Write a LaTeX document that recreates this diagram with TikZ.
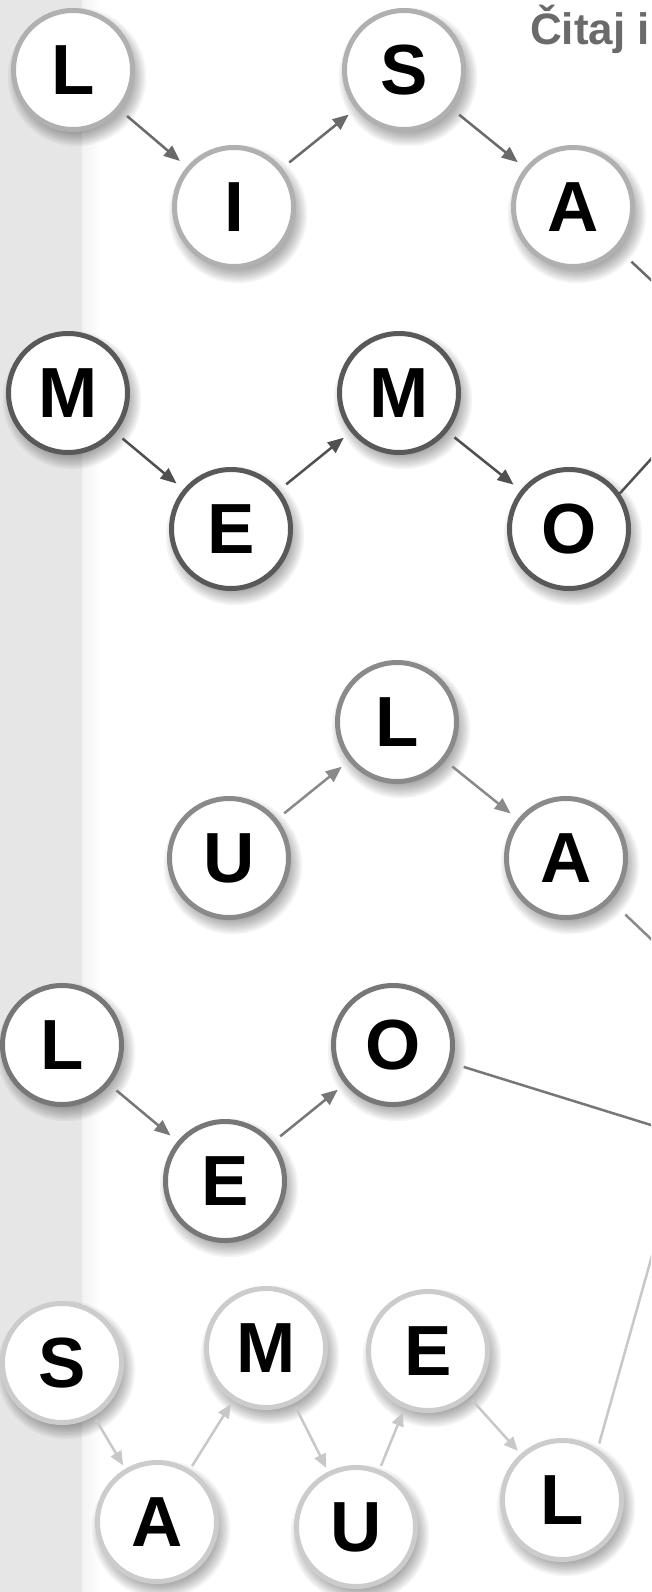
\documentclass[tikz,border=0pt]{standalone}
\usepackage{fontspec}
\setmainfont{Liberation Sans}
\usetikzlibrary{arrows.meta}
\definecolor{stripgray}{HTML}{E6E6E6}
\definecolor{titlegray}{HTML}{6A6A6A}
\definecolor{bordA}{HTML}{B0B0B0}
\definecolor{arrA}{HTML}{6A6A6A}
\definecolor{bordB}{HTML}{595959}
\definecolor{arrB}{HTML}{505050}
\definecolor{bordC}{HTML}{8A8A8A}
\definecolor{arrC}{HTML}{8A8A8A}
\definecolor{bordD}{HTML}{777777}
\definecolor{arrD}{HTML}{777777}
\definecolor{bordE}{HTML}{CCCCCC}
\definecolor{arrE}{HTML}{C8C8C8}
\newcommand\mynodeshadow[1]{%
  \foreach \k in {0,...,9} {\fill[black,opacity=0.045] ([xshift=4pt,yshift=-7pt]#1.center) circle ({53pt+\k*1.8pt});}}
\tikzset{
  ltr/.style={circle, fill=white, line width=5pt, inner sep=0pt, minimum size=119pt,
    font=\fontsize{71}{71}\selectfont\bfseries},
  rowone/.style={ltr, draw=bordA},
  rowtwo/.style={ltr, draw=bordB},
  rowthree/.style={ltr, draw=bordC},
  rowfour/.style={ltr, draw=bordD},
  rowfive/.style={ltr, draw=bordE},
  arr/.style={-{Triangle[length=16pt,width=13pt]}, line width=2.5pt, shorten <=9pt, shorten >=9pt},
  arrshort/.style={-{Triangle[length=14pt,width=12pt]}, line width=2.5pt, shorten <=4pt, shorten >=4pt},
  outline/.style={line width=2.5pt},
}
\begin{document}
\begin{tikzpicture}[x=1pt,y=-1pt]
\useasboundingbox (0,0) rectangle (651,1592);
\clip (0,0) rectangle (651,1592);
\fill[white] (0,0) rectangle (651,1592);
\fill[stripgray] (0,0) rectangle (82,1592);
\shade[left color=black!5, right color=white] (82,0) rectangle (100,1592);

% title
\node[anchor=base west, inner sep=0pt, text=titlegray, font=\fontsize{44}{44}\selectfont\bfseries] (title) at (530,45) {Čitaj i};

% coordinates
\coordinate (L1) at (73,70);   \coordinate (I1) at (234,207);
\coordinate (S1) at (404,70);  \coordinate (A1) at (573,207);
\coordinate (M2) at (68,393);  \coordinate (E2) at (231,529);
\coordinate (N2) at (399,393); \coordinate (O2) at (569,529);
\coordinate (L3) at (397,722); \coordinate (U3) at (229,858);
\coordinate (A3) at (566,858);
\coordinate (L4) at (62,1045); \coordinate (E4) at (225,1181);
\coordinate (O4) at (393,1045);
\coordinate (S5) at (62,1363); \coordinate (M5) at (266,1348);
\coordinate (E5) at (428,1351); \coordinate (A5) at (157,1522);
\coordinate (U5) at (356,1527); \coordinate (L5) at (562,1500);

% shadows
\foreach \c in {L1,I1,S1,A1,M2,E2,N2,O2,L3,U3,A3,L4,E4,O4,S5,M5,E5,A5,U5,L5} {\mynodeshadow{\c}}

% nodes
\node[rowone] (nL1) at (L1) {L};
\node[rowone] (nI1) at (I1) {I};
\node[rowone] (nS1) at (S1) {S};
\node[rowone] (nA1) at (A1) {A};
\node[rowtwo] (nM2) at (M2) {M};
\node[rowtwo] (nE2) at (E2) {E};
\node[rowtwo] (nN2) at (N2) {M};
\node[rowtwo] (nO2) at (O2) {O};
\node[rowthree] (nL3) at (L3) {L};
\node[rowthree] (nU3) at (U3) {U};
\node[rowthree] (nA3) at (A3) {A};
\node[rowfour] (nL4) at (L4) {L};
\node[rowfour] (nE4) at (E4) {E};
\node[rowfour] (nO4) at (O4) {O};
\node[rowfive] (nS5) at (S5) {S};
\node[rowfive] (nM5) at (M5) {M};
\node[rowfive] (nE5) at (E5) {E};
\node[rowfive] (nA5) at (A5) {A};
\node[rowfive] (nU5) at (U5) {U};
\node[rowfive] (nL5) at (L5) {L};

% off-picture ends
\coordinate (c1) at (807,426);
\coordinate (c2) at (721,382);
\coordinate (c3) at (821,1101);
\coordinate (c4) at (909,1205);
\coordinate (c5) at (698,1092);

% connectors
\draw[arr, arrA] (nL1) -- (nI1);
\draw[arr, arrA] (nI1) -- (nS1);
\draw[arr, arrA] (nS1) -- (nA1);
\draw[outline, arrA, shorten <=18pt] (nA1) -- (c1);

\draw[arr, arrB] (nM2) -- (nE2);
\draw[arr, arrB] (nE2) -- (nN2);
\draw[arr, arrB] (nN2) -- (nO2);
\draw[outline, arrB] (nO2.35) -- (c2);

\draw[arr, arrC] (nU3) -- (nL3);
\draw[arr, arrC] (nL3) -- (nA3);
\draw[outline, arrC, shorten <=20pt] (nA3) -- (c3);

\draw[arr, arrD] (nL4) -- (nE4);
\draw[arr, arrD] (nE4) -- (nO4);
\draw[outline, arrD, shorten <=12pt] (nO4) -- (c4);

\draw[arrshort, arrE] (nS5) -- (nA5);
\draw[arrshort, arrE] (nA5) -- (nM5);
\draw[arrshort, arrE] (nM5) -- (nU5);
\draw[arrshort, arrE] (nU5) -- (nE5);
\draw[arrshort, arrE] (nE5) -- (nL5);
\draw[outline, arrE, shorten <=6pt] (nL5.55) -- (c5);
\end{tikzpicture}
\end{document}
